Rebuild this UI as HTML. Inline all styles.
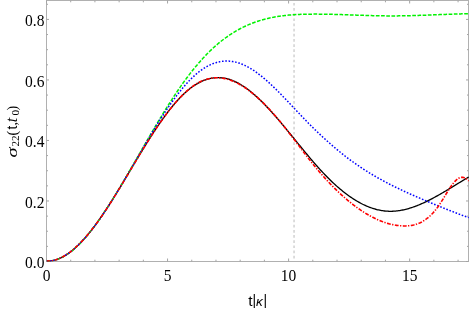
<!DOCTYPE html>
<html><head><meta charset="utf-8"><title>plot</title>
<style>
html,body{margin:0;padding:0;background:#fff;}
body{width:469px;height:310px;overflow:hidden;font-family:"Liberation Serif",serif;}
svg{display:block;will-change:transform;}
.lbl{filter:grayscale(1);}
text{font-family:"Liberation Serif",serif;font-size:15.5px;fill:#000;}
.sans{font-family:"Liberation Sans",sans-serif;}
</style></head><body>
<svg width="469" height="310" viewBox="0 0 469 310">
<rect x="0" y="0" width="469" height="310" fill="#fff"/>
<defs><clipPath id="c"><rect x="46.5" y="0" width="422.5" height="261.5"/></clipPath></defs>
<line x1="294.05" y1="0.5" x2="294.05" y2="261.5" stroke="#cccccc" stroke-width="1.35" stroke-dasharray="2.7 2.46" stroke-dashoffset="-2.4"/>
<rect x="46.5" y="0.5" width="422.0" height="261.0" fill="none" stroke="#b0b0b0" stroke-width="1"/>
<path d="M46.50,261.5 v-3.0 M46.50,0.5 v3.0 M70.71,261.5 v-1.8 M70.71,0.5 v1.8 M94.92,261.5 v-1.8 M94.92,0.5 v1.8 M119.13,261.5 v-1.8 M119.13,0.5 v1.8 M143.34,261.5 v-1.8 M143.34,0.5 v1.8 M167.55,261.5 v-3.0 M167.55,0.5 v3.0 M191.76,261.5 v-1.8 M191.76,0.5 v1.8 M215.97,261.5 v-1.8 M215.97,0.5 v1.8 M240.18,261.5 v-1.8 M240.18,0.5 v1.8 M264.39,261.5 v-1.8 M264.39,0.5 v1.8 M288.60,261.5 v-3.0 M288.60,0.5 v3.0 M312.81,261.5 v-1.8 M312.81,0.5 v1.8 M337.02,261.5 v-1.8 M337.02,0.5 v1.8 M361.23,261.5 v-1.8 M361.23,0.5 v1.8 M385.44,261.5 v-1.8 M385.44,0.5 v1.8 M409.65,261.5 v-3.0 M409.65,0.5 v3.0 M433.86,261.5 v-1.8 M433.86,0.5 v1.8 M458.07,261.5 v-1.8 M458.07,0.5 v1.8 M46.5,261.50 h2.5 M468.5,261.50 h-2.5 M46.5,246.37 h1.5 M468.5,246.37 h-1.5 M46.5,231.24 h1.5 M468.5,231.24 h-1.5 M46.5,216.11 h1.5 M468.5,216.11 h-1.5 M46.5,200.98 h2.5 M468.5,200.98 h-2.5 M46.5,185.85 h1.5 M468.5,185.85 h-1.5 M46.5,170.72 h1.5 M468.5,170.72 h-1.5 M46.5,155.59 h1.5 M468.5,155.59 h-1.5 M46.5,140.46 h2.5 M468.5,140.46 h-2.5 M46.5,125.33 h1.5 M468.5,125.33 h-1.5 M46.5,110.20 h1.5 M468.5,110.20 h-1.5 M46.5,95.07 h1.5 M468.5,95.07 h-1.5 M46.5,79.94 h2.5 M468.5,79.94 h-2.5 M46.5,64.81 h1.5 M468.5,64.81 h-1.5 M46.5,49.68 h1.5 M468.5,49.68 h-1.5 M46.5,34.55 h1.5 M468.5,34.55 h-1.5 M46.5,19.42 h2.5 M468.5,19.42 h-2.5 M46.5,4.29 h1.5 M468.5,4.29 h-1.5" stroke="#a4a4a4" stroke-width="1" fill="none"/>
<g clip-path="url(#c)" fill="none" stroke-linejoin="round">
<path d="M46.7,260.98 L47.7,261.00 L48.7,260.99 L49.7,260.93 L50.7,260.84 L51.7,260.71 L52.7,260.54 L53.7,260.34 L54.7,260.10 L55.7,259.82 L56.7,259.51 L57.7,259.17 L58.7,258.79 L59.7,258.38 L60.7,257.93 L61.7,257.45 L62.7,256.94 L63.7,256.40 L64.7,255.82 L65.7,255.21 L66.7,254.58 L67.7,253.91 L68.7,253.21 L69.7,252.48 L70.7,251.73 L71.7,250.94 L72.7,250.13 L73.7,249.29 L74.7,248.42 L75.7,247.52 L76.7,246.60 L77.7,245.65 L78.7,244.68 L79.7,243.67 L80.7,242.65 L81.7,241.60 L82.7,240.53 L83.7,239.43 L84.7,238.31 L85.7,237.16 L86.7,236.00 L87.7,234.81 L88.7,233.60 L89.7,232.37 L90.7,231.11 L91.7,229.84 L92.7,228.55 L93.7,227.24 L94.7,225.91 L95.7,224.56 L96.7,223.19 L97.7,221.80 L98.7,220.40 L99.7,218.98 L100.7,217.54 L101.7,216.09 L102.7,214.62 L103.7,213.14 L104.7,211.65 L105.7,210.14 L106.7,208.61 L107.7,207.08 L108.7,205.53 L109.7,203.97 L110.7,202.40 L111.7,200.82 L112.7,199.23 L113.7,197.63 L114.7,196.02 L115.7,194.41 L116.7,192.78 L117.7,191.15 L118.7,189.51 L119.7,187.87 L120.7,186.22 L121.7,184.56 L122.7,182.90 L123.7,181.24 L124.7,179.57 L125.7,177.90 L126.7,176.23 L127.7,174.56 L128.7,172.88 L129.7,171.21 L130.7,169.53 L131.7,167.86 L132.7,166.18 L133.7,164.51 L134.7,162.84 L135.7,161.17 L136.7,159.51 L137.7,157.84 L138.7,156.19 L139.7,154.53 L140.7,152.88 L141.7,151.24 L142.7,149.61 L143.7,147.98 L144.7,146.36 L145.7,144.74 L146.7,143.14 L147.7,141.54 L148.7,139.95 L149.7,138.38 L150.7,136.81 L151.7,135.25 L152.7,133.71 L153.7,132.18 L154.7,130.66 L155.7,129.16 L156.7,127.66 L157.7,126.18 L158.7,124.72 L159.7,123.27 L160.7,121.84 L161.7,120.42 L162.7,119.01 L163.7,117.63 L164.7,116.26 L165.7,114.91 L166.7,113.57 L167.7,112.26 L168.7,110.96 L169.7,109.68 L170.7,108.42 L171.7,107.18 L172.7,105.97 L173.7,104.77 L174.7,103.59 L175.7,102.44 L176.7,101.31 L177.7,100.20 L178.7,99.11 L179.7,98.05 L180.7,97.01 L181.7,96.00 L182.7,95.01 L183.7,94.05 L184.7,93.11 L185.7,92.20 L186.7,91.31 L187.7,90.46 L188.7,89.63 L189.7,88.82 L190.7,88.05 L191.7,87.30 L192.7,86.58 L193.7,85.89 L194.7,85.23 L195.7,84.59 L196.7,83.99 L197.7,83.41 L198.7,82.85 L199.7,82.33 L200.7,81.83 L201.7,81.37 L202.7,80.92 L203.7,80.51 L204.7,80.13 L205.7,79.77 L206.7,79.44 L207.7,79.14 L208.7,78.86 L209.7,78.62 L210.7,78.40 L211.7,78.21 L212.7,78.04 L213.7,77.91 L214.7,77.80 L215.7,77.72 L216.7,77.67 L217.7,77.64 L218.7,77.64 L219.7,77.67 L220.7,77.73 L221.7,77.82 L222.7,77.93 L223.7,78.07 L224.7,78.24 L225.7,78.43 L226.7,78.65 L227.7,78.91 L228.7,79.18 L229.7,79.49 L230.7,79.82 L231.7,80.18 L232.7,80.57 L233.7,80.98 L234.7,81.42 L235.7,81.89 L236.7,82.38 L237.7,82.89 L238.7,83.43 L239.7,84.00 L240.7,84.58 L241.7,85.19 L242.7,85.82 L243.7,86.48 L244.7,87.15 L245.7,87.85 L246.7,88.57 L247.7,89.31 L248.7,90.07 L249.7,90.85 L250.7,91.64 L251.7,92.46 L252.7,93.30 L253.7,94.15 L254.7,95.02 L255.7,95.91 L256.7,96.81 L257.7,97.73 L258.7,98.67 L259.7,99.62 L260.7,100.59 L261.7,101.57 L262.7,102.56 L263.7,103.57 L264.7,104.60 L265.7,105.63 L266.7,106.68 L267.7,107.74 L268.7,108.81 L269.7,109.90 L270.7,110.99 L271.7,112.10 L272.7,113.21 L273.7,114.33 L274.7,115.47 L275.7,116.61 L276.7,117.76 L277.7,118.92 L278.7,120.08 L279.7,121.25 L280.7,122.43 L281.7,123.62 L282.7,124.81 L283.7,126.01 L284.7,127.21 L285.7,128.41 L286.7,129.62 L287.7,130.84 L288.7,132.05 L289.7,133.27 L290.7,134.50 L291.7,135.72 L292.7,136.95 L293.7,138.17 L294.7,139.40 L295.7,140.63 L296.7,141.86 L297.7,143.08 L298.7,144.31 L299.7,145.53 L300.7,146.76 L301.7,147.98 L302.7,149.20 L303.7,150.41 L304.7,151.62 L305.7,152.83 L306.7,154.03 L307.7,155.23 L308.7,156.43 L309.7,157.61 L310.7,158.80 L311.7,159.97 L312.7,161.14 L313.7,162.30 L314.7,163.46 L315.7,164.60 L316.7,165.74 L317.7,166.87 L318.7,167.98 L319.7,169.09 L320.7,170.19 L321.7,171.28 L322.7,172.36 L323.7,173.42 L324.7,174.48 L325.7,175.52 L326.7,176.55 L327.7,177.56 L328.7,178.56 L329.7,179.55 L330.7,180.53 L331.7,181.49 L332.7,182.44 L333.7,183.38 L334.7,184.30 L335.7,185.21 L336.7,186.11 L337.7,186.99 L338.7,187.86 L339.7,188.71 L340.7,189.55 L341.7,190.37 L342.7,191.19 L343.7,191.98 L344.7,192.76 L345.7,193.53 L346.7,194.28 L347.7,195.02 L348.7,195.74 L349.7,196.45 L350.7,197.14 L351.7,197.82 L352.7,198.48 L353.7,199.13 L354.7,199.76 L355.7,200.38 L356.7,200.98 L357.7,201.56 L358.7,202.13 L359.7,202.68 L360.7,203.21 L361.7,203.73 L362.7,204.24 L363.7,204.72 L364.7,205.19 L365.7,205.65 L366.7,206.08 L367.7,206.50 L368.7,206.91 L369.7,207.29 L370.7,207.66 L371.7,208.01 L372.7,208.35 L373.7,208.67 L374.7,208.97 L375.7,209.25 L376.7,209.51 L377.7,209.76 L378.7,209.99 L379.7,210.20 L380.7,210.39 L381.7,210.56 L382.7,210.72 L383.7,210.86 L384.7,210.98 L385.7,211.08 L386.7,211.16 L387.7,211.22 L388.7,211.27 L389.7,211.29 L390.7,211.30 L391.7,211.29 L392.7,211.26 L393.7,211.21 L394.7,211.14 L395.7,211.06 L396.7,210.96 L397.7,210.84 L398.7,210.71 L399.7,210.56 L400.7,210.39 L401.7,210.21 L402.7,210.01 L403.7,209.80 L404.7,209.57 L405.7,209.33 L406.7,209.07 L407.7,208.80 L408.7,208.52 L409.7,208.22 L410.7,207.91 L411.7,207.59 L412.7,207.25 L413.7,206.90 L414.7,206.54 L415.7,206.17 L416.7,205.79 L417.7,205.39 L418.7,204.99 L419.7,204.57 L420.7,204.14 L421.7,203.71 L422.7,203.26 L423.7,202.80 L424.7,202.34 L425.7,201.87 L426.7,201.38 L427.7,200.89 L428.7,200.39 L429.7,199.88 L430.7,199.37 L431.7,198.85 L432.7,198.32 L433.7,197.78 L434.7,197.24 L435.7,196.69 L436.7,196.14 L437.7,195.58 L438.7,195.02 L439.7,194.45 L440.7,193.87 L441.7,193.29 L442.7,192.71 L443.7,192.12 L444.7,191.53 L445.7,190.94 L446.7,190.34 L447.7,189.74 L448.7,189.14 L449.7,188.54 L450.7,187.93 L451.7,187.33 L452.7,186.72 L453.7,186.11 L454.7,185.50 L455.7,184.89 L456.7,184.28 L457.7,183.66 L458.7,183.05 L459.7,182.44 L460.7,181.83 L461.7,181.23 L462.7,180.62 L463.7,180.02 L464.7,179.41 L465.7,178.81 L466.7,178.22 L467.7,177.62 L468.7,177.03" stroke="#000" stroke-width="1.3"/>
<path d="M46.7,260.98 L47.7,261.01 L48.7,261.00 L49.7,260.94 L50.7,260.85 L51.7,260.73 L52.7,260.56 L53.7,260.36 L54.7,260.13 L55.7,259.85 L56.7,259.55 L57.7,259.20 L58.7,258.83 L59.7,258.42 L60.7,257.97 L61.7,257.49 L62.7,256.98 L63.7,256.44 L64.7,255.86 L65.7,255.26 L66.7,254.62 L67.7,253.95 L68.7,253.26 L69.7,252.53 L70.7,251.77 L71.7,250.99 L72.7,250.17 L73.7,249.33 L74.7,248.46 L75.7,247.56 L76.7,246.64 L77.7,245.69 L78.7,244.71 L79.7,243.71 L80.7,242.69 L81.7,241.64 L82.7,240.56 L83.7,239.46 L84.7,238.34 L85.7,237.20 L86.7,236.03 L87.7,234.84 L88.7,233.63 L89.7,232.40 L90.7,231.15 L91.7,229.87 L92.7,228.58 L93.7,227.27 L94.7,225.94 L95.7,224.59 L96.7,223.22 L97.7,221.83 L98.7,220.43 L99.7,219.01 L100.7,217.58 L101.7,216.12 L102.7,214.66 L103.7,213.17 L104.7,211.68 L105.7,210.16 L106.7,208.64 L107.7,207.10 L108.7,205.55 L109.7,203.98 L110.7,202.41 L111.7,200.82 L112.7,199.22 L113.7,197.61 L114.7,195.99 L115.7,194.36 L116.7,192.71 L117.7,191.07 L118.7,189.41 L119.7,187.74 L120.7,186.07 L121.7,184.38 L122.7,182.69 L123.7,181.00 L124.7,179.30 L125.7,177.59 L126.7,175.88 L127.7,174.16 L128.7,172.44 L129.7,170.71 L130.7,168.98 L131.7,167.25 L132.7,165.51 L133.7,163.78 L134.7,162.04 L135.7,160.29 L136.7,158.55 L137.7,156.81 L138.7,155.07 L139.7,153.32 L140.7,151.58 L141.7,149.84 L142.7,148.10 L143.7,146.37 L144.7,144.63 L145.7,142.90 L146.7,141.17 L147.7,139.44 L148.7,137.72 L149.7,136.00 L150.7,134.28 L151.7,132.57 L152.7,130.86 L153.7,129.16 L154.7,127.47 L155.7,125.78 L156.7,124.09 L157.7,122.42 L158.7,120.75 L159.7,119.08 L160.7,117.43 L161.7,115.78 L162.7,114.14 L163.7,112.51 L164.7,110.88 L165.7,109.27 L166.7,107.66 L167.7,106.07 L168.7,104.48 L169.7,102.91 L170.7,101.35 L171.7,99.79 L172.7,98.25 L173.7,96.72 L174.7,95.21 L175.7,93.70 L176.7,92.21 L177.7,90.73 L178.7,89.27 L179.7,87.81 L180.7,86.38 L181.7,84.95 L182.7,83.55 L183.7,82.15 L184.7,80.77 L185.7,79.41 L186.7,78.06 L187.7,76.73 L188.7,75.41 L189.7,74.10 L190.7,72.81 L191.7,71.54 L192.7,70.28 L193.7,69.04 L194.7,67.81 L195.7,66.60 L196.7,65.41 L197.7,64.23 L198.7,63.06 L199.7,61.91 L200.7,60.78 L201.7,59.66 L202.7,58.56 L203.7,57.48 L204.7,56.41 L205.7,55.36 L206.7,54.32 L207.7,53.30 L208.7,52.30 L209.7,51.32 L210.7,50.35 L211.7,49.39 L212.7,48.46 L213.7,47.54 L214.7,46.63 L215.7,45.75 L216.7,44.88 L217.7,44.02 L218.7,43.18 L219.7,42.36 L220.7,41.55 L221.7,40.76 L222.7,39.99 L223.7,39.22 L224.7,38.48 L225.7,37.75 L226.7,37.03 L227.7,36.33 L228.7,35.64 L229.7,34.97 L230.7,34.31 L231.7,33.66 L232.7,33.03 L233.7,32.41 L234.7,31.81 L235.7,31.21 L236.7,30.64 L237.7,30.07 L238.7,29.52 L239.7,28.98 L240.7,28.45 L241.7,27.94 L242.7,27.44 L243.7,26.95 L244.7,26.47 L245.7,26.00 L246.7,25.55 L247.7,25.11 L248.7,24.67 L249.7,24.26 L250.7,23.85 L251.7,23.45 L252.7,23.06 L253.7,22.69 L254.7,22.32 L255.7,21.96 L256.7,21.62 L257.7,21.29 L258.7,20.96 L259.7,20.65 L260.7,20.34 L261.7,20.04 L262.7,19.76 L263.7,19.48 L264.7,19.21 L265.7,18.95 L266.7,18.70 L267.7,18.46 L268.7,18.23 L269.7,18.00 L270.7,17.79 L271.7,17.58 L272.7,17.38 L273.7,17.18 L274.7,17.00 L275.7,16.82 L276.7,16.65 L277.7,16.48 L278.7,16.33 L279.7,16.18 L280.7,16.04 L281.7,15.90 L282.7,15.77 L283.7,15.65 L284.7,15.53 L285.7,15.42 L286.7,15.31 L287.7,15.21 L288.7,15.12 L289.7,15.03 L290.7,14.94 L291.7,14.86 L292.7,14.79 L293.7,14.72 L294.7,14.66 L295.7,14.60 L296.7,14.54 L297.7,14.49 L298.7,14.44 L299.7,14.40 L300.7,14.36 L301.7,14.32 L302.7,14.29 L303.7,14.26 L304.7,14.23 L305.7,14.21 L306.7,14.19 L307.7,14.17 L308.7,14.16 L309.7,14.15 L310.7,14.14 L311.7,14.13 L312.7,14.12 L313.7,14.12 L314.7,14.12 L315.7,14.12 L316.7,14.12 L317.7,14.12 L318.7,14.13 L319.7,14.13 L320.7,14.14 L321.7,14.15 L322.7,14.16 L323.7,14.18 L324.7,14.19 L325.7,14.21 L326.7,14.22 L327.7,14.24 L328.7,14.26 L329.7,14.28 L330.7,14.31 L331.7,14.33 L332.7,14.35 L333.7,14.38 L334.7,14.41 L335.7,14.43 L336.7,14.46 L337.7,14.49 L338.7,14.52 L339.7,14.55 L340.7,14.58 L341.7,14.61 L342.7,14.65 L343.7,14.68 L344.7,14.71 L345.7,14.75 L346.7,14.78 L347.7,14.81 L348.7,14.85 L349.7,14.88 L350.7,14.92 L351.7,14.95 L352.7,14.99 L353.7,15.02 L354.7,15.06 L355.7,15.10 L356.7,15.13 L357.7,15.17 L358.7,15.20 L359.7,15.23 L360.7,15.27 L361.7,15.30 L362.7,15.34 L363.7,15.37 L364.7,15.40 L365.7,15.43 L366.7,15.46 L367.7,15.50 L368.7,15.53 L369.7,15.55 L370.7,15.58 L371.7,15.61 L372.7,15.64 L373.7,15.66 L374.7,15.69 L375.7,15.71 L376.7,15.73 L377.7,15.76 L378.7,15.78 L379.7,15.80 L380.7,15.81 L381.7,15.83 L382.7,15.84 L383.7,15.86 L384.7,15.87 L385.7,15.88 L386.7,15.89 L387.7,15.90 L388.7,15.90 L389.7,15.91 L390.7,15.91 L391.7,15.91 L392.7,15.91 L393.7,15.91 L394.7,15.90 L395.7,15.90 L396.7,15.89 L397.7,15.88 L398.7,15.87 L399.7,15.86 L400.7,15.84 L401.7,15.83 L402.7,15.81 L403.7,15.79 L404.7,15.77 L405.7,15.75 L406.7,15.73 L407.7,15.71 L408.7,15.69 L409.7,15.66 L410.7,15.64 L411.7,15.61 L412.7,15.58 L413.7,15.55 L414.7,15.53 L415.7,15.49 L416.7,15.46 L417.7,15.43 L418.7,15.40 L419.7,15.37 L420.7,15.33 L421.7,15.30 L422.7,15.26 L423.7,15.23 L424.7,15.19 L425.7,15.16 L426.7,15.12 L427.7,15.08 L428.7,15.04 L429.7,15.01 L430.7,14.97 L431.7,14.93 L432.7,14.89 L433.7,14.85 L434.7,14.81 L435.7,14.77 L436.7,14.73 L437.7,14.70 L438.7,14.66 L439.7,14.62 L440.7,14.58 L441.7,14.54 L442.7,14.50 L443.7,14.46 L444.7,14.43 L445.7,14.39 L446.7,14.35 L447.7,14.31 L448.7,14.28 L449.7,14.24 L450.7,14.21 L451.7,14.17 L452.7,14.14 L453.7,14.10 L454.7,14.07 L455.7,14.04 L456.7,14.01 L457.7,13.97 L458.7,13.94 L459.7,13.92 L460.7,13.89 L461.7,13.86 L462.7,13.83 L463.7,13.81 L464.7,13.78 L465.7,13.76 L466.7,13.74 L467.7,13.72 L468.7,13.70" stroke="#00f200" stroke-width="1.5" stroke-dasharray="3.7 1.5"/>
<path d="M46.7,261.04 L47.7,261.04 L48.7,261.01 L49.7,260.94 L50.7,260.83 L51.7,260.69 L52.7,260.51 L53.7,260.30 L54.7,260.05 L55.7,259.77 L56.7,259.45 L57.7,259.10 L58.7,258.72 L59.7,258.30 L60.7,257.85 L61.7,257.37 L62.7,256.86 L63.7,256.31 L64.7,255.74 L65.7,255.13 L66.7,254.50 L67.7,253.83 L68.7,253.14 L69.7,252.41 L70.7,251.66 L71.7,250.88 L72.7,250.07 L73.7,249.24 L74.7,248.37 L75.7,247.48 L76.7,246.57 L77.7,245.63 L78.7,244.66 L79.7,243.67 L80.7,242.65 L81.7,241.61 L82.7,240.54 L83.7,239.45 L84.7,238.34 L85.7,237.21 L86.7,236.05 L87.7,234.87 L88.7,233.67 L89.7,232.45 L90.7,231.20 L91.7,229.94 L92.7,228.66 L93.7,227.35 L94.7,226.03 L95.7,224.69 L96.7,223.33 L97.7,221.95 L98.7,220.55 L99.7,219.14 L100.7,217.71 L101.7,216.26 L102.7,214.80 L103.7,213.32 L104.7,211.83 L105.7,210.32 L106.7,208.80 L107.7,207.27 L108.7,205.72 L109.7,204.16 L110.7,202.59 L111.7,201.00 L112.7,199.41 L113.7,197.80 L114.7,196.18 L115.7,194.55 L116.7,192.92 L117.7,191.27 L118.7,189.62 L119.7,187.95 L120.7,186.28 L121.7,184.61 L122.7,182.92 L123.7,181.23 L124.7,179.54 L125.7,177.83 L126.7,176.13 L127.7,174.42 L128.7,172.70 L129.7,170.98 L130.7,169.26 L131.7,167.54 L132.7,165.81 L133.7,164.08 L134.7,162.35 L135.7,160.62 L136.7,158.89 L137.7,157.16 L138.7,155.43 L139.7,153.71 L140.7,151.98 L141.7,150.26 L142.7,148.54 L143.7,146.83 L144.7,145.12 L145.7,143.41 L146.7,141.71 L147.7,140.02 L148.7,138.33 L149.7,136.65 L150.7,134.97 L151.7,133.31 L152.7,131.65 L153.7,130.00 L154.7,128.36 L155.7,126.73 L156.7,125.11 L157.7,123.50 L158.7,121.91 L159.7,120.32 L160.7,118.75 L161.7,117.19 L162.7,115.64 L163.7,114.10 L164.7,112.58 L165.7,111.08 L166.7,109.59 L167.7,108.11 L168.7,106.65 L169.7,105.20 L170.7,103.77 L171.7,102.36 L172.7,100.96 L173.7,99.59 L174.7,98.23 L175.7,96.88 L176.7,95.56 L177.7,94.26 L178.7,92.97 L179.7,91.71 L180.7,90.46 L181.7,89.24 L182.7,88.04 L183.7,86.86 L184.7,85.70 L185.7,84.56 L186.7,83.45 L187.7,82.36 L188.7,81.29 L189.7,80.25 L190.7,79.23 L191.7,78.24 L192.7,77.27 L193.7,76.33 L194.7,75.42 L195.7,74.53 L196.7,73.67 L197.7,72.83 L198.7,72.03 L199.7,71.25 L200.7,70.50 L201.7,69.78 L202.7,69.09 L203.7,68.43 L204.7,67.80 L205.7,67.19 L206.7,66.62 L207.7,66.07 L208.7,65.56 L209.7,65.07 L210.7,64.61 L211.7,64.18 L212.7,63.78 L213.7,63.40 L214.7,63.05 L215.7,62.74 L216.7,62.45 L217.7,62.18 L218.7,61.95 L219.7,61.74 L220.7,61.56 L221.7,61.41 L222.7,61.29 L223.7,61.19 L224.7,61.12 L225.7,61.08 L226.7,61.06 L227.7,61.08 L228.7,61.12 L229.7,61.18 L230.7,61.27 L231.7,61.39 L232.7,61.54 L233.7,61.71 L234.7,61.91 L235.7,62.14 L236.7,62.39 L237.7,62.66 L238.7,62.97 L239.7,63.30 L240.7,63.65 L241.7,64.03 L242.7,64.44 L243.7,64.87 L244.7,65.33 L245.7,65.81 L246.7,66.32 L247.7,66.85 L248.7,67.40 L249.7,67.97 L250.7,68.56 L251.7,69.18 L252.7,69.82 L253.7,70.48 L254.7,71.15 L255.7,71.85 L256.7,72.56 L257.7,73.30 L258.7,74.05 L259.7,74.82 L260.7,75.60 L261.7,76.40 L262.7,77.22 L263.7,78.05 L264.7,78.90 L265.7,79.76 L266.7,80.64 L267.7,81.53 L268.7,82.43 L269.7,83.35 L270.7,84.27 L271.7,85.21 L272.7,86.16 L273.7,87.12 L274.7,88.09 L275.7,89.07 L276.7,90.05 L277.7,91.05 L278.7,92.05 L279.7,93.07 L280.7,94.08 L281.7,95.11 L282.7,96.14 L283.7,97.18 L284.7,98.22 L285.7,99.26 L286.7,100.31 L287.7,101.36 L288.7,102.42 L289.7,103.48 L290.7,104.54 L291.7,105.60 L292.7,106.66 L293.7,107.73 L294.7,108.79 L295.7,109.85 L296.7,110.92 L297.7,111.98 L298.7,113.04 L299.7,114.09 L300.7,115.15 L301.7,116.20 L302.7,117.24 L303.7,118.28 L304.7,119.32 L305.7,120.35 L306.7,121.38 L307.7,122.40 L308.7,123.41 L309.7,124.42 L310.7,125.42 L311.7,126.42 L312.7,127.41 L313.7,128.39 L314.7,129.37 L315.7,130.34 L316.7,131.31 L317.7,132.27 L318.7,133.23 L319.7,134.17 L320.7,135.12 L321.7,136.05 L322.7,136.98 L323.7,137.91 L324.7,138.82 L325.7,139.73 L326.7,140.64 L327.7,141.54 L328.7,142.43 L329.7,143.31 L330.7,144.19 L331.7,145.06 L332.7,145.92 L333.7,146.78 L334.7,147.63 L335.7,148.48 L336.7,149.32 L337.7,150.15 L338.7,150.97 L339.7,151.79 L340.7,152.60 L341.7,153.40 L342.7,154.20 L343.7,154.99 L344.7,155.77 L345.7,156.54 L346.7,157.31 L347.7,158.07 L348.7,158.82 L349.7,159.57 L350.7,160.31 L351.7,161.04 L352.7,161.76 L353.7,162.48 L354.7,163.19 L355.7,163.89 L356.7,164.59 L357.7,165.28 L358.7,165.96 L359.7,166.63 L360.7,167.30 L361.7,167.96 L362.7,168.62 L363.7,169.27 L364.7,169.91 L365.7,170.55 L366.7,171.18 L367.7,171.80 L368.7,172.42 L369.7,173.04 L370.7,173.64 L371.7,174.25 L372.7,174.84 L373.7,175.43 L374.7,176.02 L375.7,176.60 L376.7,177.17 L377.7,177.74 L378.7,178.31 L379.7,178.87 L380.7,179.42 L381.7,179.97 L382.7,180.51 L383.7,181.06 L384.7,181.59 L385.7,182.12 L386.7,182.65 L387.7,183.17 L388.7,183.69 L389.7,184.21 L390.7,184.72 L391.7,185.22 L392.7,185.72 L393.7,186.22 L394.7,186.72 L395.7,187.21 L396.7,187.70 L397.7,188.18 L398.7,188.66 L399.7,189.14 L400.7,189.61 L401.7,190.09 L402.7,190.55 L403.7,191.02 L404.7,191.48 L405.7,191.94 L406.7,192.40 L407.7,192.85 L408.7,193.31 L409.7,193.75 L410.7,194.20 L411.7,194.65 L412.7,195.09 L413.7,195.53 L414.7,195.97 L415.7,196.41 L416.7,196.84 L417.7,197.27 L418.7,197.70 L419.7,198.13 L420.7,198.56 L421.7,198.99 L422.7,199.42 L423.7,199.84 L424.7,200.26 L425.7,200.68 L426.7,201.11 L427.7,201.53 L428.7,201.95 L429.7,202.36 L430.7,202.78 L431.7,203.20 L432.7,203.61 L433.7,204.03 L434.7,204.44 L435.7,204.85 L436.7,205.26 L437.7,205.67 L438.7,206.08 L439.7,206.49 L440.7,206.89 L441.7,207.30 L442.7,207.70 L443.7,208.10 L444.7,208.50 L445.7,208.90 L446.7,209.30 L447.7,209.70 L448.7,210.09 L449.7,210.48 L450.7,210.87 L451.7,211.27 L452.7,211.65 L453.7,212.04 L454.7,212.43 L455.7,212.81 L456.7,213.19 L457.7,213.57 L458.7,213.95 L459.7,214.33 L460.7,214.70 L461.7,215.08 L462.7,215.45 L463.7,215.82 L464.7,216.18 L465.7,216.55 L466.7,216.91 L467.7,217.28 L468.7,217.64" stroke="#0000ff" stroke-width="1.5" stroke-dasharray="1.6 1.7"/>
<path d="M46.7,261.14 L47.7,261.14 L48.7,261.10 L49.7,261.02 L50.7,260.90 L51.7,260.75 L52.7,260.56 L53.7,260.34 L54.7,260.08 L55.7,259.79 L56.7,259.47 L57.7,259.11 L58.7,258.71 L59.7,258.29 L60.7,257.83 L61.7,257.34 L62.7,256.82 L63.7,256.27 L64.7,255.68 L65.7,255.07 L66.7,254.43 L67.7,253.75 L68.7,253.05 L69.7,252.32 L70.7,251.56 L71.7,250.77 L72.7,249.96 L73.7,249.11 L74.7,248.25 L75.7,247.35 L76.7,246.43 L77.7,245.48 L78.7,244.51 L79.7,243.51 L80.7,242.49 L81.7,241.45 L82.7,240.38 L83.7,239.29 L84.7,238.17 L85.7,237.03 L86.7,235.88 L87.7,234.70 L88.7,233.49 L89.7,232.27 L90.7,231.03 L91.7,229.77 L92.7,228.49 L93.7,227.18 L94.7,225.86 L95.7,224.53 L96.7,223.17 L97.7,221.80 L98.7,220.41 L99.7,219.00 L100.7,217.58 L101.7,216.14 L102.7,214.68 L103.7,213.21 L104.7,211.73 L105.7,210.23 L106.7,208.72 L107.7,207.19 L108.7,205.66 L109.7,204.10 L110.7,202.54 L111.7,200.97 L112.7,199.38 L113.7,197.79 L114.7,196.19 L115.7,194.58 L116.7,192.96 L117.7,191.33 L118.7,189.69 L119.7,188.05 L120.7,186.40 L121.7,184.75 L122.7,183.09 L123.7,181.43 L124.7,179.76 L125.7,178.09 L126.7,176.42 L127.7,174.74 L128.7,173.06 L129.7,171.39 L130.7,169.71 L131.7,168.03 L132.7,166.35 L133.7,164.67 L134.7,163.00 L135.7,161.33 L136.7,159.66 L137.7,157.99 L138.7,156.33 L139.7,154.67 L140.7,153.01 L141.7,151.37 L142.7,149.72 L143.7,148.09 L144.7,146.46 L145.7,144.84 L146.7,143.23 L147.7,141.63 L148.7,140.03 L149.7,138.45 L150.7,136.88 L151.7,135.31 L152.7,133.76 L153.7,132.23 L154.7,130.70 L155.7,129.19 L156.7,127.69 L157.7,126.21 L158.7,124.74 L159.7,123.28 L160.7,121.85 L161.7,120.42 L162.7,119.02 L163.7,117.63 L164.7,116.25 L165.7,114.90 L166.7,113.56 L167.7,112.24 L168.7,110.94 L169.7,109.66 L170.7,108.40 L171.7,107.15 L172.7,105.93 L173.7,104.73 L174.7,103.55 L175.7,102.39 L176.7,101.25 L177.7,100.14 L178.7,99.04 L179.7,97.97 L180.7,96.93 L181.7,95.91 L182.7,94.91 L183.7,93.93 L184.7,92.99 L185.7,92.06 L186.7,91.16 L187.7,90.29 L188.7,89.45 L189.7,88.63 L190.7,87.84 L191.7,87.08 L192.7,86.34 L193.7,85.64 L194.7,84.96 L195.7,84.31 L196.7,83.69 L197.7,83.11 L198.7,82.55 L199.7,82.02 L200.7,81.53 L201.7,81.07 L202.7,80.63 L203.7,80.23 L204.7,79.87 L205.7,79.53 L206.7,79.22 L207.7,78.94 L208.7,78.70 L209.7,78.48 L210.7,78.29 L211.7,78.13 L212.7,78.00 L213.7,77.90 L214.7,77.83 L215.7,77.79 L216.7,77.77 L217.7,77.78 L218.7,77.82 L219.7,77.89 L220.7,77.98 L221.7,78.10 L222.7,78.24 L223.7,78.41 L224.7,78.61 L225.7,78.83 L226.7,79.08 L227.7,79.35 L228.7,79.65 L229.7,79.97 L230.7,80.31 L231.7,80.68 L232.7,81.07 L233.7,81.49 L234.7,81.93 L235.7,82.39 L236.7,82.87 L237.7,83.38 L238.7,83.90 L239.7,84.45 L240.7,85.02 L241.7,85.61 L242.7,86.22 L243.7,86.85 L244.7,87.50 L245.7,88.17 L246.7,88.86 L247.7,89.57 L248.7,90.30 L249.7,91.05 L250.7,91.82 L251.7,92.60 L252.7,93.40 L253.7,94.22 L254.7,95.06 L255.7,95.92 L256.7,96.79 L257.7,97.68 L258.7,98.58 L259.7,99.50 L260.7,100.44 L261.7,101.40 L262.7,102.37 L263.7,103.35 L264.7,104.35 L265.7,105.37 L266.7,106.40 L267.7,107.45 L268.7,108.51 L269.7,109.59 L270.7,110.68 L271.7,111.78 L272.7,112.90 L273.7,114.03 L274.7,115.17 L275.7,116.33 L276.7,117.50 L277.7,118.68 L278.7,119.88 L279.7,121.08 L280.7,122.30 L281.7,123.54 L282.7,124.78 L283.7,126.03 L284.7,127.29 L285.7,128.56 L286.7,129.84 L287.7,131.13 L288.7,132.42 L289.7,133.72 L290.7,135.02 L291.7,136.33 L292.7,137.64 L293.7,138.96 L294.7,140.28 L295.7,141.60 L296.7,142.92 L297.7,144.25 L298.7,145.57 L299.7,146.89 L300.7,148.21 L301.7,149.53 L302.7,150.85 L303.7,152.16 L304.7,153.47 L305.7,154.78 L306.7,156.08 L307.7,157.37 L308.7,158.66 L309.7,159.94 L310.7,161.21 L311.7,162.47 L312.7,163.72 L313.7,164.97 L314.7,166.20 L315.7,167.42 L316.7,168.63 L317.7,169.83 L318.7,171.01 L319.7,172.19 L320.7,173.35 L321.7,174.50 L322.7,175.64 L323.7,176.77 L324.7,177.88 L325.7,178.99 L326.7,180.08 L327.7,181.16 L328.7,182.23 L329.7,183.28 L330.7,184.33 L331.7,185.36 L332.7,186.38 L333.7,187.39 L334.7,188.39 L335.7,189.38 L336.7,190.35 L337.7,191.31 L338.7,192.26 L339.7,193.20 L340.7,194.13 L341.7,195.04 L342.7,195.95 L343.7,196.84 L344.7,197.72 L345.7,198.58 L346.7,199.44 L347.7,200.28 L348.7,201.11 L349.7,201.93 L350.7,202.74 L351.7,203.53 L352.7,204.32 L353.7,205.09 L354.7,205.85 L355.7,206.59 L356.7,207.33 L357.7,208.05 L358.7,208.76 L359.7,209.46 L360.7,210.14 L361.7,210.81 L362.7,211.47 L363.7,212.11 L364.7,212.74 L365.7,213.36 L366.7,213.97 L367.7,214.56 L368.7,215.14 L369.7,215.70 L370.7,216.25 L371.7,216.79 L372.7,217.31 L373.7,217.82 L374.7,218.31 L375.7,218.79 L376.7,219.25 L377.7,219.70 L378.7,220.14 L379.7,220.56 L380.7,220.96 L381.7,221.36 L382.7,221.73 L383.7,222.09 L384.7,222.44 L385.7,222.77 L386.7,223.08 L387.7,223.38 L388.7,223.66 L389.7,223.93 L390.7,224.18 L391.7,224.41 L392.7,224.63 L393.7,224.83 L394.7,225.02 L395.7,225.19 L396.7,225.34 L397.7,225.47 L398.7,225.59 L399.7,225.69 L400.7,225.78 L401.7,225.85 L402.7,225.90 L403.7,225.93 L404.7,225.94 L405.7,225.93 L406.7,225.90 L407.7,225.85 L408.7,225.77 L409.7,225.67 L410.7,225.54 L411.7,225.38 L412.7,225.19 L413.7,224.97 L414.7,224.72 L415.7,224.43 L416.7,224.11 L417.7,223.76 L418.7,223.36 L419.7,222.93 L420.7,222.46 L421.7,221.95 L422.7,221.40 L423.7,220.80 L424.7,220.16 L425.7,219.47 L426.7,218.73 L427.7,217.95 L428.7,217.11 L429.7,216.23 L430.7,215.29 L431.7,214.30 L432.7,213.25 L433.7,212.15 L434.7,210.99 L435.7,209.77 L436.7,208.49 L437.7,207.15 L438.7,205.75 L439.7,204.28 L440.7,202.76 L441.7,201.19 L442.7,199.58 L443.7,197.95 L444.7,196.30 L445.7,194.66 L446.7,193.02 L447.7,191.40 L448.7,189.82 L449.7,188.28 L450.7,186.79 L451.7,185.37 L452.7,184.03 L453.7,182.78 L454.7,181.62 L455.7,180.58 L456.7,179.67 L457.7,178.88 L458.7,178.25 L459.7,177.77 L460.7,177.46 L461.7,177.33 L462.7,177.37 L463.7,177.58 L464.7,177.96 L465.7,178.50 L466.7,179.19 L467.7,180.03 L468.7,181.02" stroke="#ff0000" stroke-width="1.6" stroke-dasharray="3.8 1.4 1.3 1.5"/>
</g>
<g class="lbl">
<text transform="translate(44.4,268.35) scale(1,1.06)" text-anchor="end">0.0</text>
<text transform="translate(44.4,207.83) scale(1,1.06)" text-anchor="end">0.2</text>
<text transform="translate(44.4,147.31) scale(1,1.06)" text-anchor="end">0.4</text>
<text transform="translate(44.4,86.79) scale(1,1.06)" text-anchor="end">0.6</text>
<text transform="translate(44.4,26.27) scale(1,1.06)" text-anchor="end">0.8</text>
<text transform="translate(46.50,281.0) scale(1,1.06)" text-anchor="middle">0</text>
<text transform="translate(167.55,281.0) scale(1,1.06)" text-anchor="middle">5</text>
<text transform="translate(288.60,281.0) scale(1,1.06)" text-anchor="middle">10</text>
<text transform="translate(409.65,281.0) scale(1,1.06)" text-anchor="middle">15</text>
</g>
<g transform="translate(17,156.8) rotate(-90)" class="lbl">
<text transform="translate(-0.7,0) scale(1.42,1)" font-style="italic" style="font-size:14.3px">σ</text>
<text x="10.3" y="2.3" style="font-size:11px">22</text>
<text x="21.4" y="-0.2" style="font-size:14.1px">(</text>
<text x="27.3" y="0" class="sans" style="font-size:13.8px">t</text>
<text x="31.4" y="0" style="font-size:14.1px">,</text>
<text x="34.6" y="0" font-style="italic" style="font-size:16px">t</text>
<text x="41.2" y="2.4" style="font-size:11.3px">0</text>
<text x="46.3" y="-0.2" style="font-size:14.1px">)</text>
</g>
<g class="lbl">
<text x="248.3" y="305.6" class="sans" style="font-size:15.5px">t</text>
<text x="252.5" y="304.9" class="sans" style="font-size:13.9px">|</text>
<text x="256.0" y="305.7" class="sans" font-style="italic" style="font-size:13.5px">κ</text>
<text x="263.6" y="304.9" class="sans" style="font-size:13.9px">|</text>
</g>
</svg>
</body></html>
